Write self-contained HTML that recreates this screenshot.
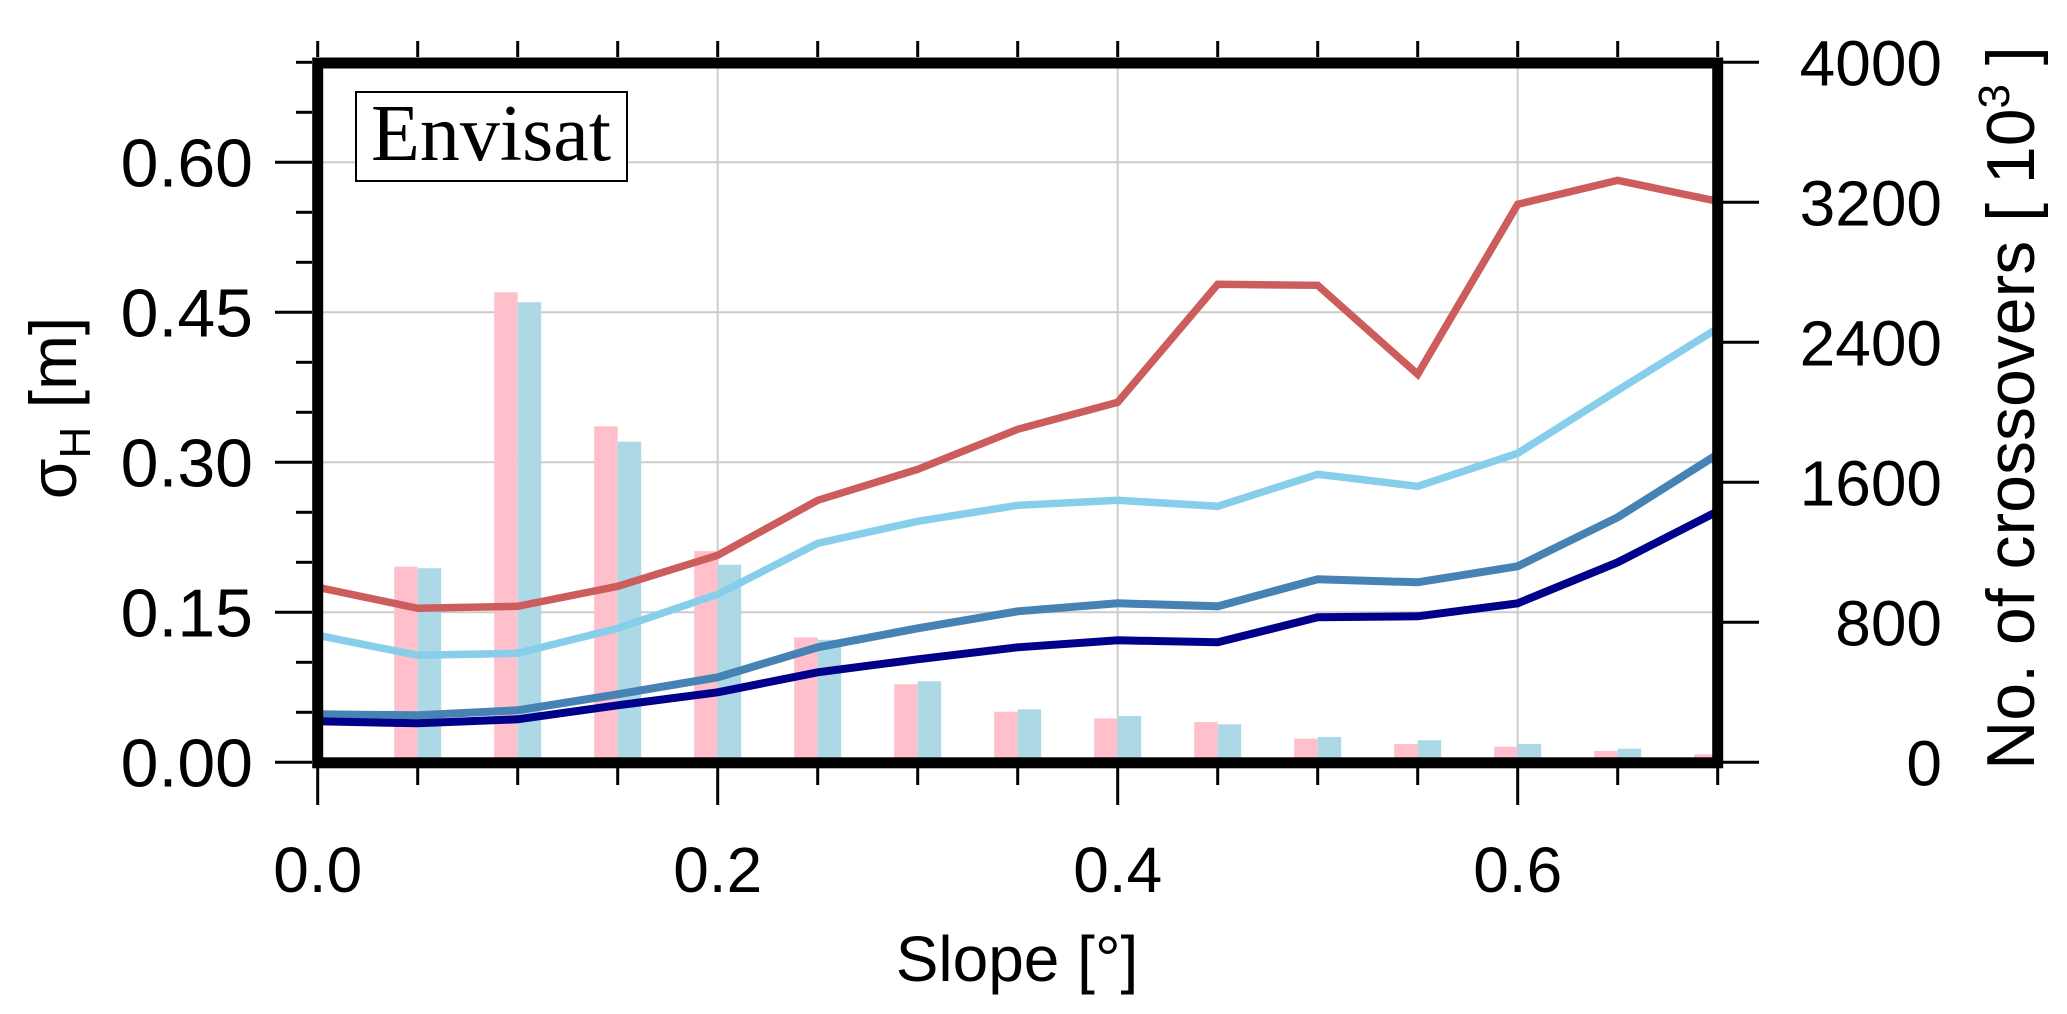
<!DOCTYPE html>
<html><head><meta charset="utf-8"><style>
html,body{margin:0;padding:0;background:#fff;}
svg{display:block;font-family:"Liberation Sans",Arial,sans-serif;}
</style></head><body>
<svg id="chart" width="2067" height="1014" viewBox="0 0 2067 1014" xmlns="http://www.w3.org/2000/svg">
<g id="grid"></g>
<g id="bars"></g>
<g id="lines"></g>
<g id="axes"></g>
<g>
<rect x="356" y="92" width="271" height="89" fill="#fff" stroke="#000" stroke-width="2"/>
<text x="491" y="160" text-anchor="middle" font-family="Liberation Serif,serif" font-size="80">Envisat</text>
</g>
<text x="1017" y="981" text-anchor="middle" font-size="64">Slope [°]</text>
<text transform="translate(76,408) rotate(-90)" text-anchor="middle" font-size="66">σ<tspan font-size="44" dy="14">H</tspan><tspan dy="-14"> [m]</tspan></text>
<text transform="translate(2034,408) rotate(-90)" text-anchor="middle" font-size="68">No. of crossovers [ 10<tspan font-size="44" dy="-25">3</tspan><tspan dy="25"> ]</tspan></text>
</svg>
<script>
const xValues=[0,0.05,0.1,0.15,0.2,0.25,0.3,0.35,0.4,0.45,0.5,0.55,0.6,0.65,0.7];
const redSeries=[0.175,0.154,0.156,0.176,0.207,0.262,0.293,0.333,0.360,0.478,0.477,0.388,0.558,0.582,0.561];
const skySeries=[0.127,0.107,0.109,0.134,0.168,0.219,0.241,0.257,0.262,0.256,0.288,0.276,0.309,0.372,0.434];
const steelSeries=[0.048,0.047,0.052,0.068,0.085,0.115,0.134,0.151,0.159,0.156,0.183,0.180,0.196,0.245,0.308];
const navySeries=[0.041,0.039,0.043,0.057,0.070,0.090,0.103,0.115,0.122,0.120,0.145,0.146,0.159,0.200,0.251];
const barX=[0.05,0.1,0.15,0.2,0.25,0.3,0.35,0.4,0.45,0.5,0.55,0.6,0.65,0.7];
const pinkCounts=[1118,2686,1920,1207,714,446,289,251,230,135,105,89,65,46];
const blueCounts=[1109,2629,1832,1129,700,463,303,265,217,145,126,105,78,0];
const xTicks=[0,0.2,0.4,0.6];
const xTickLabels=["0.0","0.2","0.4","0.6"];
const yTicks=[0,0.15,0.30,0.45,0.60];
const yTickLabels=["0.00","0.15","0.30","0.45","0.60"];
const y2Ticks=[0,800,1600,2400,3200,4000];
const y2TickLabels=["0","800","1600","2400","3200","4000"];

const NS="http://www.w3.org/2000/svg";
const X0=317.7,XS=2000,Y0=762.3,YS=1000,Y2S=140/800;
const L=317.7,R=1717.7,T=63,B=762.3;
function sx(v){return X0+v*XS;}
function sy(v){return Y0-v*YS;}
function sy2(v){return Y0-v*Y2S;}
function mk(tag,attrs,parent){const e=document.createElementNS(NS,tag);for(const k in attrs)e.setAttribute(k,attrs[k]);parent.appendChild(e);return e;}
const grid=document.getElementById('grid'),bars=document.getElementById('bars'),lines=document.getElementById('lines'),axes=document.getElementById('axes');

[0.2,0.4,0.6].forEach(v=>{const e=mk('line',{x1:sx(v),x2:sx(v),y1:T,y2:B,stroke:'#cccccc','stroke-width':2},grid);

});
[0.15,0.3,0.45,0.6].forEach(v=>{const e=mk('line',{x1:L,x2:R,y1:sy(v),y2:sy(v),stroke:'#cccccc','stroke-width':2},grid);

});

const BW=23.5;
barX.forEach((v,i)=>{
 const p=mk('rect',{x:sx(v)-BW,y:sy2(pinkCounts[i]),width:BW,height:Y0-sy2(pinkCounts[i]),fill:'#ffc0cb'},bars);
 
 
 const b=mk('rect',{x:sx(v),y:sy2(blueCounts[i]),width:BW,height:Y0-sy2(blueCounts[i]),fill:'#add8e6'},bars);
 
 
});

function drawLine(series,color,w,name){
 const pts=series.map((v,i)=>sx(xValues[i]).toFixed(1)+','+sy(v).toFixed(1)).join(' ');
 const e=mk('polyline',{points:pts,fill:'none',stroke:color,'stroke-width':w,'stroke-linejoin':'miter'},lines);
 
 
}
drawLine(redSeries,'#cd5c5c',7.5,'line-red');
drawLine(skySeries,'#87ceeb',7.5,'line-skyblue');
drawLine(steelSeries,'#4682b4',8,'line-steelblue');
drawLine(navySeries,'#00008b',8,'line-navy');

const fr=mk('rect',{x:L,y:T,width:R-L,height:B-T+0.5,fill:'none',stroke:'#000','stroke-width':11},axes);



for(let k=0;k<=14;k++){const v=k*0.05;const major=(k%4===0);
 const t=mk('line',{x1:sx(v),x2:sx(v),y1:768,y2:major?805:785,stroke:'#000','stroke-width':3},axes);
 
 
 const t2=mk('line',{x1:sx(v),x2:sx(v),y1:41,y2:57,stroke:'#000','stroke-width':3},axes);
 
 
}
xTicks.forEach((v,i)=>{const t=mk('text',{x:sx(v),y:892,'text-anchor':'middle','font-size':64},axes);t.textContent=xTickLabels[i];
 
 });

for(let k=0;k<=14;k++){const v=k*0.05;const y=sy(v);if(y<T-1)break;const major=(k%3===0);
 const t=mk('line',{x1:major?275:296,x2:312,y1:y,y2:y,stroke:'#000','stroke-width':3},axes);
 
 }
yTicks.forEach((v,i)=>{const t=mk('text',{x:253,y:sy(v)+24,'text-anchor':'end','font-size':68},axes);t.textContent=yTickLabels[i];
 
 });

y2Ticks.forEach((v,i)=>{const y=sy2(v);
 const t=mk('line',{x1:1723,x2:1759,y1:y,y2:y,stroke:'#000','stroke-width':3},axes);
 
 
 const l=mk('text',{x:1942,y:y+23,'text-anchor':'end','font-size':64},axes);l.textContent=y2TickLabels[i];
 
 });
</script>
</body></html>
